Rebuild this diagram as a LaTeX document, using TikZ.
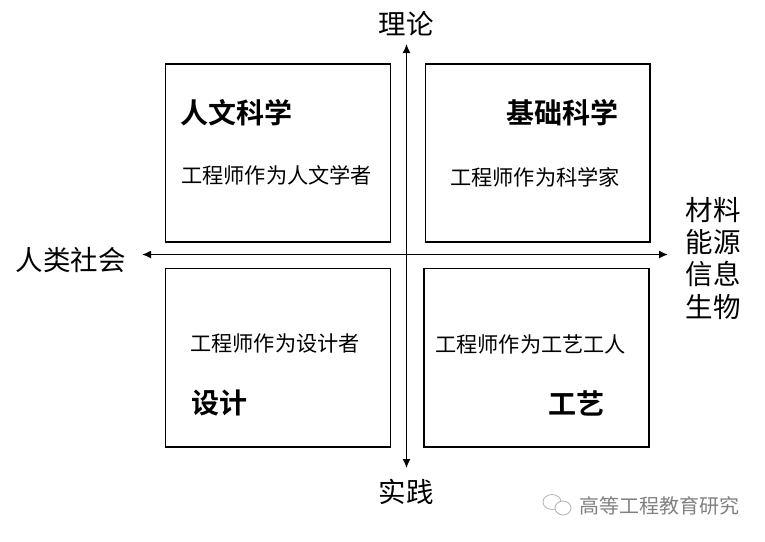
\documentclass[tikz,border=0pt]{standalone}
\usepackage{fontspec}
\usetikzlibrary{arrows.meta}
\newfontfamily\cjk{Noto Sans CJK SC}
\newfontfamily\cjkbold{Noto Sans CJK SC Bold}
\definecolor{wmgray}{gray}{0.5}
\tikzset{
  quadbox/.style={draw=black, line width=1.5pt, minimum width=225pt, minimum height=178pt, inner sep=0pt},
  axis/.style={line width=1.5pt, {Latex[length=9pt,width=8pt]}-{Latex[length=9pt,width=8pt]}},
  axislabel/.style={inner sep=0pt, font=\cjk\fontsize{27.5}{31}\selectfont},
  title/.style={inner sep=0pt, font=\cjkbold\fontsize{28}{32}\selectfont},
  subtitle/.style={inner sep=0pt, font=\cjk\fontsize{21.2}{25}\selectfont},
  watermark/.style={inner sep=0pt, text=wmgray, font=\cjk\fontsize{20}{23}\selectfont},
}
\begin{document}
\begin{tikzpicture}[x=1pt, y=-1pt]
\useasboundingbox (0,0) rectangle (765,541);
% boxes
\node[quadbox] (tl) at (278,153) {};
\node[quadbox, minimum width=224.5pt] (tr) at (537.75,153) {};
\node[quadbox, minimum height=178.5pt] (bl) at (277.75,357.75) {};
\node[quadbox, minimum height=178.5pt] (br) at (536.5,357.75) {};
% axes
\coordinate (hl) at (142,254.5);
\coordinate (hr) at (668,254.5);
\coordinate (vt) at (406.5,44);
\coordinate (vb) at (406.5,468);
\draw[axis] (hl) -- (hr);
\draw[axis] (vt) -- (vb);
% axis labels
\node[axislabel] (theory) at (406,24) {理论};
\node[axislabel] (practice) at (406,492) {实践};
\node[axislabel, anchor=east] (society) at (126,260) {人类社会};
\node[axislabel] (m1) at (713,210) {材料};
\node[axislabel] (m2) at (713,242) {能源};
\node[axislabel] (m3) at (713,274) {信息};
\node[axislabel] (m4) at (713,307) {生物};
% titles
\node[title, anchor=west] (t1) at (180,113) {人文科学};
\node[title, anchor=east] (t2) at (619,113) {基础科学};
\node[title, anchor=west] (t3) at (191,403) {设计};
\node[title, anchor=east] (t4) at (605,403) {工艺};
% subtitles
\node[subtitle, anchor=west] (s1) at (181,175) {工程师作为人文学者};
\node[subtitle, anchor=west] (s2) at (450,177) {工程师作为科学家};
\node[subtitle, anchor=west] (s3) at (190,343) {工程师作为设计者};
\node[subtitle, anchor=west] (s4) at (435,344) {工程师作为工艺工人};
% watermark
\draw[wmgray!60, line width=0.8pt] (552,502) ellipse [x radius=9pt, y radius=7.5pt];
\draw[wmgray!60, line width=0.8pt, fill=white] (563,508) ellipse [x radius=8pt, y radius=7pt];
\node[watermark, anchor=west] (wm) at (579,506) {高等工程教育研究};
\end{tikzpicture}
\end{document}
